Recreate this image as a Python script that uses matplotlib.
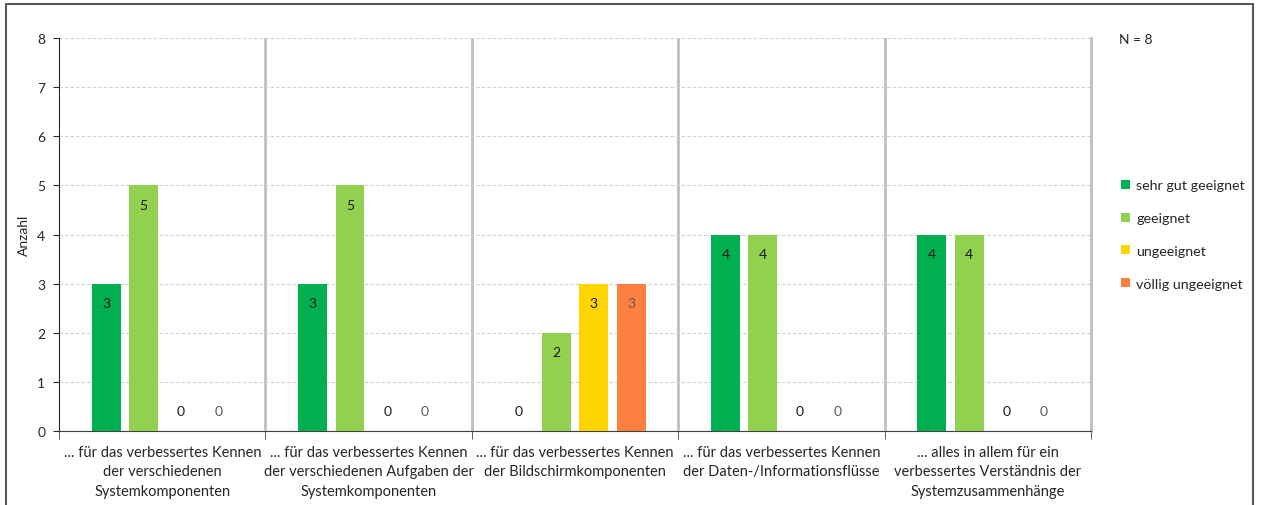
import numpy as np
import matplotlib.pyplot as plt
from matplotlib.patches import Rectangle

plt.rcParams['font.family'] = ['Lato', 'DejaVu Sans']

categories = [
    '... für das verbessertes Kennen\nder verschiedenen\nSystemkomponenten',
    '... für das verbessertes Kennen\nder verschiedenen Aufgaben der\nSystemkomponenten',
    '... für das verbessertes Kennen\nder Bildschirmkomponenten',
    '... für das verbessertes Kennen\nder Daten-/Informationsflüsse',
    '... alles in allem für ein\nverbessertes Verständnis der\nSystemzusammenhänge',
]
series_names = ['sehr gut geeignet', 'geeignet', 'ungeeignet', 'völlig ungeeignet']
sehr_gut = [3, 3, 0, 4, 4]
geeignet = [5, 5, 2, 4, 4]
ungeeignet = [0, 0, 3, 0, 0]
voellig_ungeeignet = [0, 0, 3, 0, 0]
n_total = 8

series = [sehr_gut, geeignet, ungeeignet, voellig_ungeeignet]
colors = ['#00b050', '#92d050', '#ffd500', '#ff7f41']
label_colors = ['#1a1a1a', '#1a1a1a', '#1a1a1a', '#595959']

fig = plt.figure(figsize=(12.62, 5.06), dpi=100)
ax = fig.add_axes([0.0468, 0.1462, 0.8177, 0.7767])

x = np.arange(len(categories))
slot = 0.181
width = 0.14
offsets = (np.arange(4) - 1.5) * slot

for i, (vals, c) in enumerate(zip(series, colors)):
    xs = x + offsets[i]
    ax.bar(xs, vals, width, color=c, label=series_names[i], zorder=3)
    for xi, v in zip(xs, vals):
        y = v - 0.39 if v > 0 else 0.4
        ax.text(xi, y, str(v), ha='center', va='center', fontsize=10,
                color=label_colors[i], zorder=4)

ax.set_xlim(-0.5, len(categories) - 0.5)
ax.set_ylim(0, 8)
ax.set_yticks(range(0, 9))
ax.tick_params(axis='y', labelsize=10, length=4, pad=6, color='#262626', labelcolor='#262626')
ax.yaxis.grid(True, linestyle=(0, (3, 2)), color='#d0d0d0', linewidth=0.8, zorder=0)

# group separators
for b in np.arange(0.5, len(categories) - 0.5, 1.0):
    ax.axvline(b, color='#bfbfbf', linewidth=2, zorder=1)

ax.set_xticks(x)
ax.set_xticklabels(categories, fontsize=10.5, color='#262626', linespacing=1.5)
ax.tick_params(axis='x', length=0, pad=10)
ax.set_xticks(np.arange(-0.5, len(categories)), minor=True)
ax.tick_params(axis='x', which='minor', length=6, color='#404040')

ax.spines['top'].set_visible(False)
ax.spines['right'].set_color('#bfbfbf')
ax.spines['right'].set_linewidth(2)
ax.spines['left'].set_color('#262626')
ax.spines['bottom'].set_color('#404040')

ax.set_ylabel('Anzahl', fontsize=10, color='#262626', labelpad=5)

fig.text(0.887, 0.92, f'N = {n_total}', fontsize=10, color='#262626', va='center')

leg = ax.legend(loc='center left', bbox_to_anchor=(1.017, 0.50), frameon=False,
                fontsize=10.3, handlelength=0.6, handleheight=0.6,
                handletextpad=0.45, labelspacing=1.45, labelcolor='#262626')

# outer frame
fig.patches.append(Rectangle((6 / 1262, -0.05), 1247 / 1262, 1 - 5 / 506 + 0.05,
                             transform=fig.transFigure, fill=False,
                             edgecolor='#595959', linewidth=1.5, clip_on=False))

fig.savefig('out.png', dpi=100)
